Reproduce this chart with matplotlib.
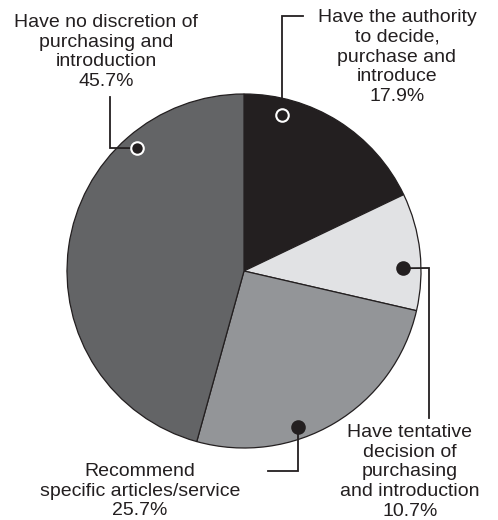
import numpy as np
import matplotlib.pyplot as plt

labels = ['Have the authority\nto decide,\npurchase and\nintroduce',
          'Have tentative\ndecision of\npurchasing\nand introduction',
          'Recommend\nspecific articles/service',
          'Have no discretion of\npurchasing and\nintroduction']
shares = [17.9, 10.7, 25.7, 45.7]
colors = ['#231f20', '#e1e2e4', '#939598', '#636466']

W, H = 498, 520
fig = plt.figure(figsize=(W / 100, H / 100), dpi=100)
ax = fig.add_axes([0, 0, 1, 1])

cx, cy, R = 244, H - 271, 177
wedges, _ = ax.pie(shares, colors=colors, startangle=90, counterclock=False,
                   center=(cx, cy), radius=R, frame=True,
                   wedgeprops=dict(edgecolor='#231f20', linewidth=0.9))
ax.set_xlim(0, W)
ax.set_ylim(0, H)
ax.set_aspect('equal')
ax.axis('off')

# marker positions (angle in degrees, fraction of radius) for each slice
dot_pos = [(76.3, 0.91), (1.0, 0.90), (-71.0, 0.93), (131.0, 0.92)]
dot_edge = ['white', '#231f20', '#231f20', 'white']

def px(x, y):
    return x, H - y

# leader line paths in pixel coords (after the dot)
leaders = [[(282, 16), (303, 16)],
           [(429, 268), (429, 418)],
           [(298, 471), (268, 471)],
           [(110, 148), (110, 97)]]
text_pos = [(397, 57), (410, 472), (140, 491), (106, 52)]

for i in range(4):
    a, f = dot_pos[i]
    dx = cx + f * R * np.cos(np.radians(a))
    dy = cy + f * R * np.sin(np.radians(a))
    pts = [(dx, dy)]
    if i in (1, 3):
        pts.append(px(*leaders[i][0]))
    else:
        pts.append((dx, H - leaders[i][0][1]))
    pts.append(px(*leaders[i][1]))
    xs, ys = zip(*pts)
    ax.plot(xs, ys, color='#231f20', lw=1.3, zorder=3, solid_joinstyle='miter')
    ax.plot([dx], [dy], 'o', ms=9, mfc='#231f20', mec=dot_edge[i], mew=1.5, zorder=4)
    tx, ty = text_pos[i]
    ax.text(tx, H - ty, labels[i] + '\n%.1f%%' % shares[i], ha='center', va='center',
            multialignment='center', fontsize=14, family='Liberation Sans',
            color='#231f20', linespacing=1.22)

fig.savefig('out.png', dpi=100)
